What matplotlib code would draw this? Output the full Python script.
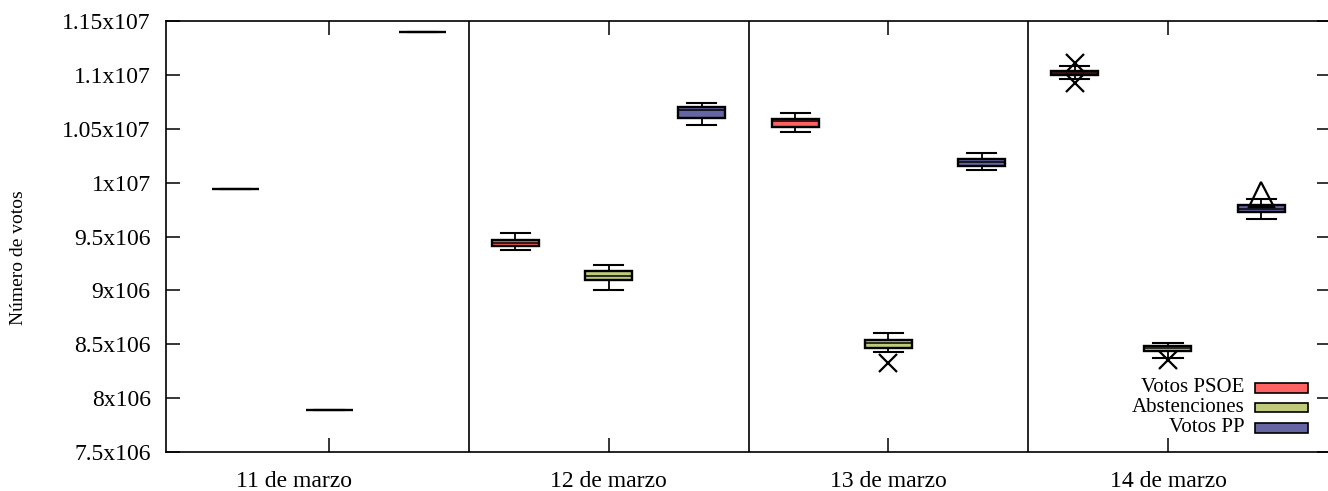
import matplotlib
matplotlib.use("Agg")
import matplotlib.pyplot as plt
import matplotlib.patches as patches
import matplotlib.transforms as mtrans

plt.rcParams['font.family'] = ['Liberation Serif', 'DejaVu Serif']

# ---- data ----
dias = ["11 de marzo", "12 de marzo", "13 de marzo", "14 de marzo"]
series = ["Votos PSOE", "Abstenciones", "Votos PP"]
colores = ["#ff6262", "#bfcb7a", "#6565a3"]

psoe_whislo = [9.941e6, 9.375e6, 10.467e6, 10.962e6]
psoe_q1 = [9.941e6, 9.409e6, 10.513e6, 10.996e6]
psoe_med = [9.941e6, 9.440e6, 10.572e6, 11.017e6]
psoe_q3 = [9.941e6, 9.470e6, 10.590e6, 11.039e6]
psoe_whishi = [9.941e6, 9.535e6, 10.643e6, 11.082e6]
psoe_fliers = [[], [], [], [11.110e6, 10.925e6]]

abst_whislo = [7.893e6, 9.006e6, 8.431e6, 8.375e6]
abst_q1 = [7.893e6, 9.093e6, 8.465e6, 8.437e6]
abst_med = [7.893e6, 9.136e6, 8.508e6, 8.462e6]
abst_q3 = [7.893e6, 9.183e6, 8.539e6, 8.487e6]
abst_whishi = [7.893e6, 9.239e6, 8.601e6, 8.514e6]
abst_fliers = [[], [], [8.323e6], [8.350e6]]

pp_whislo = [11.40e6, 10.532e6, 10.117e6, 9.662e6]
pp_q1 = [11.40e6, 10.603e6, 10.157e6, 9.727e6]
pp_med = [11.40e6, 10.674e6, 10.191e6, 9.758e6]
pp_q3 = [11.40e6, 10.699e6, 10.216e6, 9.790e6]
pp_whishi = [11.40e6, 10.736e6, 10.278e6, 9.848e6]
pp_fliers = [[], [], [], [9.89e6]]

yticks = [7.5e6, 8e6, 8.5e6, 9e6, 9.5e6, 1e7, 1.05e7, 1.1e7, 1.15e7]
ytick_labels = ["7.5x106", "8x106", "8.5x106", "9x106", "9.5x106",
                "1x107", "1.05x107", "1.1x107", "1.15x107"]


def make_stats(lo, q1, med, q3, hi, fl):
    return [dict(whislo=lo[i], q1=q1[i], med=med[i], q3=q3[i], whishi=hi[i],
                 fliers=fl[i]) for i in range(len(lo))]


todas = [
    make_stats(psoe_whislo, psoe_q1, psoe_med, psoe_q3, psoe_whishi, psoe_fliers),
    make_stats(abst_whislo, abst_q1, abst_med, abst_q3, abst_whishi, abst_fliers),
    make_stats(pp_whislo, pp_q1, pp_med, pp_q3, pp_whishi, pp_fliers),
]
marcadores = ['x', 'x', '^']
desplaz = [-1/3, 0, 1/3]

fig = plt.figure(figsize=(13.28, 4.91), dpi=100)
ax = fig.add_axes([166/1328, 39/491, (1331-166)/1328, 431/491])

for k, stats in enumerate(todas):
    pos = [i + 1 + desplaz[k] for i in range(len(dias))]
    ax.bxp(stats, positions=pos, widths=0.168, capwidths=0.104,
           showfliers=True, patch_artist=True, manage_ticks=False,
           boxprops=dict(facecolor=colores[k], edgecolor='black', linewidth=1.7),
           medianprops=dict(color='black', linewidth=1.1),
           whiskerprops=dict(color='black', linewidth=1.3),
           capprops=dict(color='black', linewidth=1.5),
           flierprops=dict(marker=marcadores[k], markersize=13 if k < 2 else 18,
                           markeredgecolor='black', markerfacecolor='none',
                           markeredgewidth=1.6, linestyle='none'))

# day separators
for i in range(len(dias) - 1):
    ax.axvline(i + 1.5, color='black', linewidth=1.2)

ax.set_xlim(0.417, 4.583)
ax.set_ylim(yticks[0], yticks[-1])
ax.set_xticks(range(1, len(dias) + 1))
ax.set_xticklabels(dias)
ax.set_yticks(yticks)
ax.set_yticklabels(ytick_labels)
ax.tick_params(direction='in', length=10, width=1.1, top=True, right=True,
               labelsize=17)
ax.tick_params(axis='y', pad=11)
ax.tick_params(axis='x', pad=13.5)
for s in ax.spines.values():
    s.set_linewidth(1.2)

# first label sits a bit left of its tick in the original
lbl = ax.get_xticklabels()[0]
lbl.set_transform(lbl.get_transform() + mtrans.ScaledTranslation(-0.35, 0, fig.dpi_scale_trans))

ax.set_ylabel("Número de votos", fontsize=14)
ax.yaxis.set_label_coords(-0.119, 0.452)

# legend (right-aligned text, swatch on the right)
fila_y = [0.149, 0.103, 0.056]
for k, nombre in enumerate(series):
    ax.text(0.926, fila_y[k], nombre, transform=ax.transAxes, ha='right',
            va='center', fontsize=15)
    ax.add_patch(patches.Rectangle((0.935, fila_y[k] - 0.011), 0.045, 0.022,
                                   transform=ax.transAxes, facecolor=colores[k],
                                   edgecolor='black', linewidth=1.2))

fig.savefig("out.png", dpi=100)
